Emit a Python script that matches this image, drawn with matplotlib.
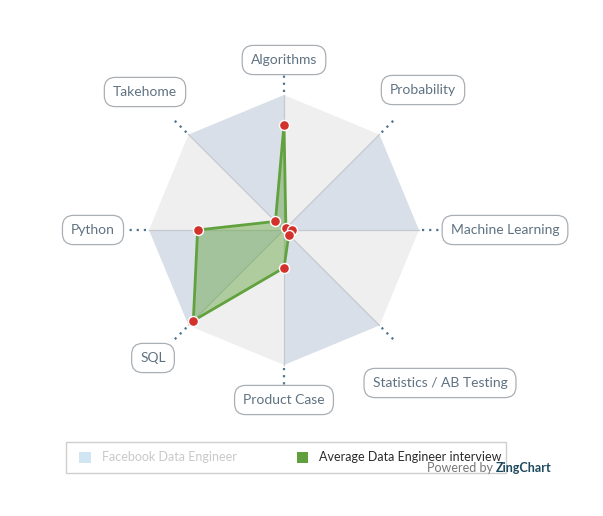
import numpy as np
import matplotlib.pyplot as plt
from matplotlib.patches import Polygon, FancyBboxPatch

plt.rcParams['font.family'] = ['Lato', 'DejaVu Sans']

# axes, clockwise from the top
categories = ["Algorithms", "Probability", "Machine Learning",
              "Statistics / AB Testing", "Product Case", "SQL",
              "Python", "Takehome"]
avg_values = [0.78, 0.02, 0.057, 0.05, 0.28, 0.95, 0.64, 0.09]
legend_labels = ["Facebook Data Engineer", "Average Data Engineer interview"]

W, H = 603, 516
CX, CY, R = 284, 230, 135
BLUE_BG = "#d8dfe8"
GRAY_BG = "#efefef"
SPOKE = "#c4c9cf"
DOT = "#4d7590"
LABEL = "#5f7282"
GREEN = "#62a23e"
RED = "#d3312b"

# label box centres (pixel), same order as categories
label_pos = [(284, 60), (423, 90), (505, 230), (440, 383),
             (284, 400), (153, 358), (93, 230), (145, 92)]

fig = plt.figure(figsize=(W / 100, H / 100), dpi=100)
ax = fig.add_axes([0, 0, 1, 1])
ax.set_xlim(0, W)
ax.set_ylim(H, 0)
ax.set_axis_off()

n = len(categories)
ang = np.pi / 2 - np.arange(n) * 2 * np.pi / n
ux, uy = np.cos(ang), -np.sin(ang)


def pt(i, r):
    return CX + ux[i] * r, CY + uy[i] * r


# background sectors
for i in range(n):
    j = (i + 1) % n
    col = GRAY_BG if i % 2 == 0 else BLUE_BG
    ax.add_patch(Polygon([(CX, CY), pt(i, R), pt(j, R)], closed=True,
                         fc=col, ec="none", zorder=1))
for i in range(n):
    x1, y1 = pt(i, R)
    ax.plot([CX, x1], [CY, y1], color=SPOKE, lw=0.9, zorder=2)
    xa, ya = pt(i, R + 3)
    xb, yb = pt(i, R + 24)
    ax.plot([xa, xb], [ya, yb], color=DOT, lw=1.6, ls=(0, (1, 2.2)),
            zorder=2)

# labels
for lab, (lx, ly) in zip(categories, label_pos):
    t = ax.text(lx, ly, lab, ha="center", va="center", fontsize=10,
                color=LABEL, zorder=5)
    t.set_bbox(dict(boxstyle="round,pad=0.62,rounding_size=0.8",
                    fc="white", ec="#a9afb4", lw=0.9))

# data series
pts = [pt(i, v * R) for i, v in enumerate(avg_values)]
ax.add_patch(Polygon(pts, closed=True, fc=GREEN, alpha=0.45, ec="none",
                     zorder=3))
xs = [p[0] for p in pts] + [pts[0][0]]
ys = [p[1] for p in pts] + [pts[0][1]]
ax.plot(xs, ys, color=GREEN, lw=2.0, zorder=4)
ax.scatter(xs[:-1], ys[:-1], s=52, color=RED, edgecolors="white",
           linewidths=1.0, zorder=6)

# legend
ax.add_patch(FancyBboxPatch((66, 442), 440, 31, boxstyle="square,pad=0",
                            fc="white", ec="#cfcfcf", lw=1.0, zorder=5))
ax.add_patch(plt.Rectangle((79, 452), 12, 11, fc="#d2e5f2", ec="none",
                           zorder=6))
ax.text(102, 457, legend_labels[0], ha="left", va="center", fontsize=9,
        color="#c9c9c9", zorder=6)
ax.add_patch(plt.Rectangle((297, 452), 11, 11, fc="#5f9f3e", ec="none",
                           zorder=6))
ax.text(319, 457, legend_labels[1], ha="left", va="center", fontsize=9,
        color="#2b2b2b", zorder=6)
ax.text(496, 468, "Powered by ", ha="right", va="center", fontsize=9,
        color="#777777", zorder=7)
ax.text(496, 468, "ZingChart", ha="left", va="center", fontsize=9,
        color="#1e4a5f", weight="bold", zorder=7)

fig.savefig("out.png", dpi=100)
